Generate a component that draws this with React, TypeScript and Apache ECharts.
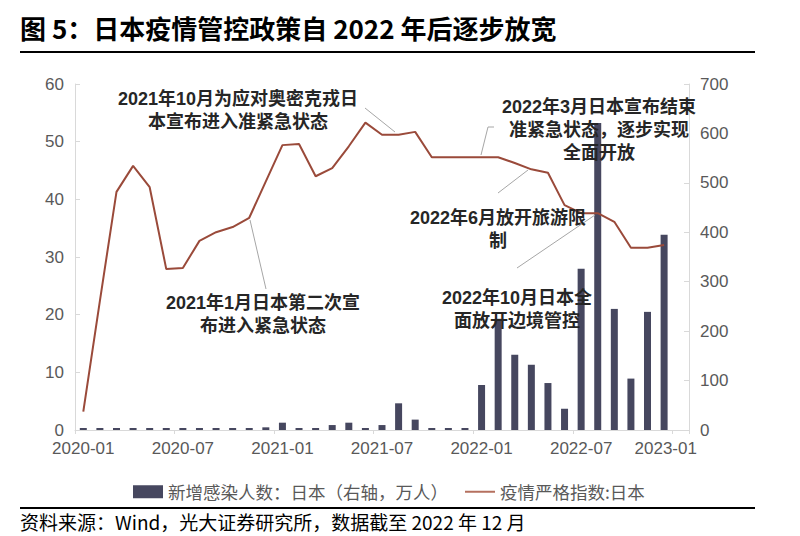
import React, { useEffect, useRef } from 'react';
import * as echarts from 'echarts';

const months = [
  '2020-01', '2020-02', '2020-03', '2020-04', '2020-05', '2020-06', '2020-07', '2020-08', '2020-09', '2020-10', '2020-11', '2020-12',
  '2021-01', '2021-02', '2021-03', '2021-04', '2021-05', '2021-06', '2021-07', '2021-08', '2021-09', '2021-10', '2021-11', '2021-12',
  '2022-01', '2022-02', '2022-03', '2022-04', '2022-05', '2022-06', '2022-07', '2022-08', '2022-09', '2022-10', '2022-11', '2022-12',
  '2023-01',
];

const tickLabels = ['2020-01', '2020-07', '2021-01', '2021-07', '2022-01', '2022-07', '2023-01'];

// 新增感染人数：日本（万人，右轴）
const newCases = [
  0.1, 0.1, 0.2, 1.2, 0.5, 0.2, 0.3, 3.2, 1.5, 1.6, 3.4, 5.4,
  14.8, 3.4, 1.2, 10, 14.8, 3.4, 10, 54, 21, 2.5, 1, 1,
  91, 225, 152, 132, 95, 43, 326, 621, 245, 104, 239, 395,
];

// 疫情严格指数:日本（左轴）
const stringency = [
  3.2, 22.4, 41.3, 45.8, 42.1, 27.9, 28.1, 32.8, 34.3, 35.2, 36.8, 43.1,
  49.4, 49.6, 44.0, 45.4, 49.2, 53.3, 51.2, 51.2, 51.7, 47.3, 47.3, 47.3,
  47.3, 47.3, 46.3, 45.2, 44.6, 39.0, 37.6, 37.6, 36.1, 31.6, 31.6, 32.1,
];

const titleText = '图 5：日本疫情管控政策自 2022 年后逐步放宽';
const sourceText = '资料来源：Wind，光大证券研究所，数据截至 2022 年 12 月';
const barName = '新增感染人数：日本（右轴，万人）';
const lineName = '疫情严格指数:日本';

const annotations = [
  '2021年10月为应对奥密克戎日\n本宣布进入准紧急状态',
  '2021年1月日本第二次宣\n布进入紧急状态',
  '2022年3月日本宣布结束\n准紧急状态，逐步实现\n全面开放',
  '2022年6月放开旅游限\n制',
  '2022年10月日本全\n面放开边境管控',
];

const CJK = '"Noto Sans CJK SC", sans-serif';
const LAT = '"Liberation Sans", Arial, "Noto Sans CJK SC", sans-serif';

export default function App() {
  const ref = useRef<HTMLDivElement>(null);

  useEffect(() => {
    if (!ref.current) return;
    const chart = echarts.init(ref.current, undefined, { renderer: 'svg' });
    const axisGray = '#d9d9d9';
    const labelGray = '#595959';
    const lineColor = '#9a4a3a';
    const annoStyle = (text: string) => ({
      text,
      fontSize: 18,
      fontWeight: 'bold',
      fontFamily: LAT,
      fill: '#262626',
      lineHeight: 23,
      align: 'center',
      verticalAlign: 'top',
    });
    const leader = { stroke: '#a6a6a6', lineWidth: 1 };

    chart.setOption({
      animation: false,
      backgroundColor: '#ffffff',
      grid: { left: 75, right: 111, top: 84, bottom: 106, containLabel: false },
      xAxis: {
        type: 'category',
        data: months,
        boundaryGap: true,
        axisLine: { show: true, lineStyle: { color: axisGray } },
        axisTick: { show: true, interval: 5, length: 4, lineStyle: { color: axisGray } },
        axisLabel: {
          interval: 5,
          color: labelGray,
          fontSize: 17,
          fontFamily: LAT,
          margin: 10,
          formatter: (v: string) => {
            if (!tickLabels.includes(v)) return '';
            return v === tickLabels[tickLabels.length - 1] ? `{last|${v}}` : v;
          },
          rich: {
            last: { padding: [0, 30, 0, 0], fontSize: 17, fontFamily: LAT, color: labelGray },
          },
        },
      },
      yAxis: [
        {
          type: 'value',
          position: 'left',
          min: 0,
          max: 60,
          interval: 10,
          axisLine: { show: true, lineStyle: { color: axisGray } },
          axisTick: { show: true, inside: true, length: 5, lineStyle: { color: axisGray } },
          splitLine: { show: false },
          axisLabel: { color: labelGray, fontSize: 17, fontFamily: LAT, margin: 11 },
        },
        {
          type: 'value',
          position: 'right',
          min: 0,
          max: 700,
          interval: 100,
          axisLine: { show: true, lineStyle: { color: axisGray } },
          axisTick: { show: true, inside: true, length: 5, lineStyle: { color: axisGray } },
          splitLine: { show: false },
          axisLabel: { color: labelGray, fontSize: 17, fontFamily: LAT, margin: 11 },
        },
      ],
      legend: {
        left: 128,
        top: 478,
        itemWidth: 30,
        itemHeight: 13,
        itemGap: 17,
        symbolKeepAspect: true,
        textStyle: { color: labelGray, fontSize: 17.5, fontFamily: CJK },
        data: [
          { name: barName, icon: 'rect' },
          { name: lineName, icon: 'path://M0,0H30V2H0Z', itemStyle: { color: '#b5705f' } },
        ],
      },
      series: [
        {
          name: barName,
          type: 'bar',
          yAxisIndex: 1,
          data: newCases,
          barWidth: 7,
          barMinHeight: 2,
          itemStyle: { color: '#46475f' },
        },
        {
          name: lineName,
          type: 'line',
          yAxisIndex: 0,
          data: stringency,
          symbol: 'none',
          lineStyle: { color: lineColor, width: 2 },
          itemStyle: { color: lineColor },
        },
      ],
      graphic: [
        {
          type: 'text', x: 20, y: 27, z: 100,
          style: { text: titleText, fontSize: 26, fontWeight: 'bold', fontFamily: CJK, fill: '#000', verticalAlign: 'middle' },
        },
        { type: 'line', z: 100, shape: { x1: 20, y1: 52, x2: 755, y2: 52 }, style: { stroke: '#000', lineWidth: 2 } },
        { type: 'line', z: 100, shape: { x1: 20, y1: 508, x2: 755, y2: 508 }, style: { stroke: '#000', lineWidth: 2 } },
        {
          type: 'text', x: 20, y: 521, z: 100,
          style: { text: sourceText, fontSize: 19, fontFamily: CJK, fill: '#000', verticalAlign: 'middle' },
        },
        { type: 'text', x: 238, y: 87, z: 100, style: annoStyle(annotations[0]) },
        { type: 'text', x: 263, y: 291, z: 100, style: annoStyle(annotations[1]) },
        { type: 'text', x: 599, y: 95, z: 100, style: annoStyle(annotations[2]) },
        { type: 'text', x: 498, y: 206, z: 100, style: annoStyle(annotations[3]) },
        { type: 'text', x: 517, y: 286, z: 100, style: annoStyle(annotations[4]) },
        { type: 'line', z: 99, shape: { x1: 365, y1: 108, x2: 395, y2: 132 }, style: leader },
        { type: 'line', z: 99, shape: { x1: 250, y1: 220, x2: 266, y2: 289 }, style: leader },
        { type: 'polyline', z: 99, shape: { points: [[494, 127], [488, 127], [481, 155]] }, style: { ...leader, fill: 'none' } },
        { type: 'line', z: 99, shape: { x1: 498, y1: 193, x2: 528, y2: 170 }, style: leader },
        { type: 'line', z: 99, shape: { x1: 517, y1: 268, x2: 595, y2: 215 }, style: leader },
      ],
    });

    return () => chart.dispose();
  }, []);

  return (
    <div
      ref={ref}
      style={{ position: 'absolute', left: 0, top: 0, width: 800, height: 536, background: '#fff' }}
    />
  );
}
